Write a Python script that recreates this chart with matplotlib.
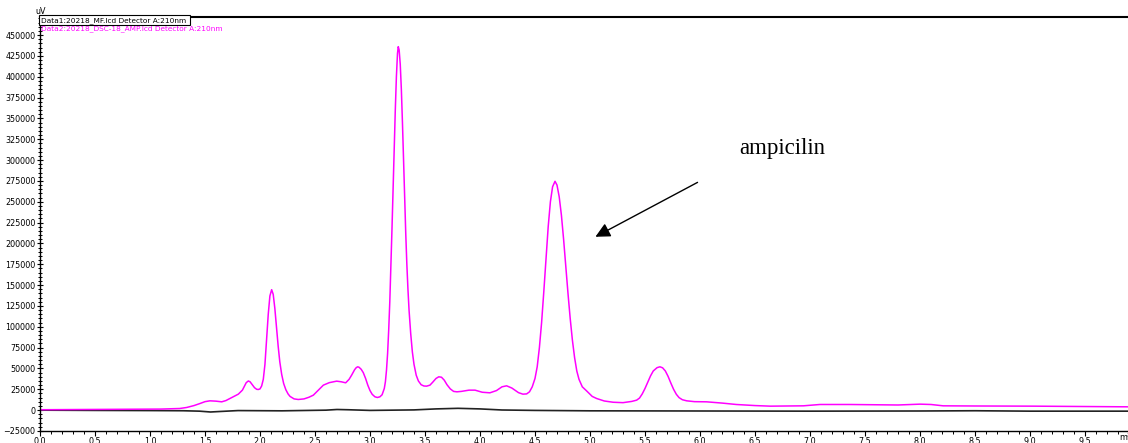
import matplotlib.pyplot as plt
from matplotlib.patches import Rectangle
from matplotlib.ticker import MultipleLocator, FormatStrFormatter

# Data2: 20218_DSC-18_AMP (retention time in min, signal in uV)
amp_time = [0.00, 0.30, 0.60, 0.90, 1.10, 1.27, 1.333, 1.40, 1.455, 1.50, 1.545, 1.60,
            1.652, 1.69, 1.727, 1.765, 1.803, 1.84, 1.86, 1.875, 1.894, 1.91, 1.93,
            1.95, 1.97, 1.985, 2.00, 2.015, 2.03, 2.045, 2.06, 2.075, 2.09, 2.106,
            2.12, 2.135, 2.15, 2.165, 2.18, 2.197, 2.215, 2.235, 2.255, 2.273, 2.31,
            2.348, 2.40, 2.445, 2.485, 2.53, 2.576, 2.63, 2.697, 2.74, 2.779, 2.81,
            2.833, 2.86, 2.875, 2.888, 2.90, 2.92, 2.939, 2.96, 2.98, 3.00, 3.02,
            3.045, 3.067, 3.09, 3.11, 3.13, 3.14, 3.15, 3.16, 3.17, 3.18, 3.19, 3.20,
            3.21, 3.22, 3.23, 3.24, 3.25, 3.257, 3.265, 3.275, 3.285, 3.295, 3.305,
            3.315, 3.325, 3.335, 3.345, 3.355, 3.37, 3.385, 3.40, 3.42, 3.44, 3.465,
            3.49, 3.515, 3.545, 3.57, 3.60, 3.625, 3.65, 3.675, 3.70, 3.73, 3.76,
            3.79, 3.83, 3.90, 3.955, 4.02, 4.09, 4.15, 4.20, 4.242, 4.29, 4.35, 4.39,
            4.424, 4.45, 4.475, 4.50, 4.52, 4.54, 4.56, 4.58, 4.60, 4.62, 4.64, 4.66,
            4.682, 4.70, 4.72, 4.74, 4.76, 4.78, 4.80, 4.82, 4.84, 4.86, 4.88, 4.90,
            4.93, 4.97, 5.02, 5.06, 5.13, 5.21, 5.30, 5.38, 5.424, 5.45, 5.475, 5.50,
            5.525, 5.55, 5.575, 5.61, 5.636, 5.66, 5.685, 5.71, 5.735, 5.76, 5.785,
            5.81, 5.84, 5.879, 5.95, 6.06, 6.20, 6.33, 6.50, 6.64, 6.80, 6.94, 7.09,
            7.36, 7.60, 7.80, 8.00, 8.10, 8.21, 8.50, 9.03, 9.50, 9.89]
amp_signal = [500, 700, 800, 1000, 1300, 2000, 3200, 5500, 8000, 10200, 11200, 10800,
              10000, 11500, 14000, 16500, 19200, 24000, 29000, 33000, 35000, 34000, 30500,
              27000, 25000, 24800, 25500, 29000, 37000, 55000, 85000, 115000, 137000, 144500,
              139000, 122000, 99000, 77000, 58000, 43000, 32000, 24500, 19500, 16500, 13500,
              12800, 13500, 15500, 18000, 24000, 30000, 33000, 34800, 34000, 32800, 37000,
              42000, 48500, 51000, 52000, 51500, 49000, 45000, 38000, 30000, 23500, 19000,
              16000, 15200, 16000, 18500, 26000, 34000, 48000, 68000, 96000, 130000, 172000, 218000,
              266000, 315000, 360000, 400000, 428000, 436000, 432000, 415000, 385000, 345000, 300000,
              255000, 212000, 175000, 145000, 120000, 92000, 70000, 55000, 42000, 35000, 30500,
              29000, 28800, 30000, 33500, 38000, 40000, 39500, 36000, 30500, 25500, 22500,
              22000, 22500, 24000, 24000, 21500, 20800, 23500, 28000, 29200, 26500, 21000, 19200,
              19500, 22000, 28000, 38000, 52000, 75000, 105000, 142000, 182000, 220000, 250000, 268000,
              274500, 270000, 256000, 234000, 205000, 172000, 140000, 110000, 84000, 63000, 47000, 37000,
              28000, 23000, 16500, 14000, 11000, 9500, 9000, 10500, 12000, 14500, 19500, 26000,
              33500, 41000, 47000, 51000, 52000, 50800, 47000, 40500, 32500, 25000, 19000,
              15000, 12500, 11200, 10200, 10000, 8500, 6800, 5500, 4800, 5000, 5200, 6800,
              6800, 6500, 6200, 7200, 6800, 5200, 5000, 4800, 4300, 4000]

# Data1: 20218_MF blank run
mf_time = [0.0, 0.5, 1.0, 1.3, 1.45, 1.55, 1.65, 1.8, 2.2, 2.6, 2.7, 2.8, 3.0, 3.4,
           3.6, 3.8, 4.0, 4.2, 4.5, 5.0, 6.0, 7.0, 8.0, 8.5, 9.0, 9.89]
mf_signal = [0, -300, -500, -700, -1200, -2200, -1500, -500, -800, 0, 800, 500, -300, 300,
             1500, 2200, 1500, 200, -300, -800, -1000, -1200, -1000, -700, -1200, -1200]

W, H = 1128, 443
fig = plt.figure(figsize=(W / 100, H / 100), dpi=100)
ax = fig.add_axes([40 / W, 12 / H, 1 - 40 / W, (431 - 17) / H])

ax.plot(mf_time, mf_signal, color='#222222', lw=1.2)
ax.plot(amp_time, amp_signal, color='#ff00ff', lw=1.1)

ax.set_xlim(0, 9.891)
ax.set_ylim(-25000, 471600)

ax.xaxis.set_major_locator(MultipleLocator(0.5))
ax.xaxis.set_minor_locator(MultipleLocator(0.1))
ax.xaxis.set_major_formatter(FormatStrFormatter('%.1f'))
ax.yaxis.set_minor_locator(MultipleLocator(5000))
ax.set_yticks(range(-25000, 450001, 25000))

ax.tick_params(axis='x', which='major', direction='out', length=3.6, width=0.8,
               labelsize=5.8, pad=1)
ax.tick_params(axis='x', which='minor', direction='out', length=2.2, width=0.7)
ax.tick_params(axis='y', which='major', direction='inout', length=4.5, width=0.8,
               labelsize=5.8, pad=1)
ax.tick_params(axis='y', which='minor', direction='inout', length=2.8, width=0.7)

for name in ['left', 'bottom']:
    ax.spines[name].set_linewidth(1.0)
ax.spines['top'].set_linewidth(1.5)
ax.spines['right'].set_visible(False)

# arrow and label for the ampicillin peak
ax.annotate('', xy=(5.027, 206400), xytext=(6.0, 274800),
            arrowprops=dict(arrowstyle='-|>', color='black', lw=1.0, mutation_scale=22))
ax.text(6.36, 314400, 'ampicilin', fontsize=16.5, family='Liberation Serif',
        va='center', ha='left')

# header: unit and data file legend
fig.text(35 / W, 1 - 12 / H, 'uV', fontsize=5.8, va='center', ha='left')
fig.patches.append(Rectangle((39 / W, 1 - 25 / H), 151 / W, 9.5 / H, transform=fig.transFigure,
                             fill=True, facecolor='white', edgecolor='black', lw=0.8))
fig.text(41 / W, 1 - 20.3 / H, 'Data1:20218_MF.lcd Detector A:210nm', fontsize=5.3,
         va='center', ha='left', color='black')
fig.text(41 / W, 1 - 29 / H, 'Data2:20218_DSC-18_AMP.lcd Detector A:210nm', fontsize=5.3,
         va='center', ha='left', color='#ff00ff')
fig.text(1119 / W, 1 - 438 / H, 'min', fontsize=5.8, va='center', ha='left')

fig.savefig('out.png', dpi=100)
